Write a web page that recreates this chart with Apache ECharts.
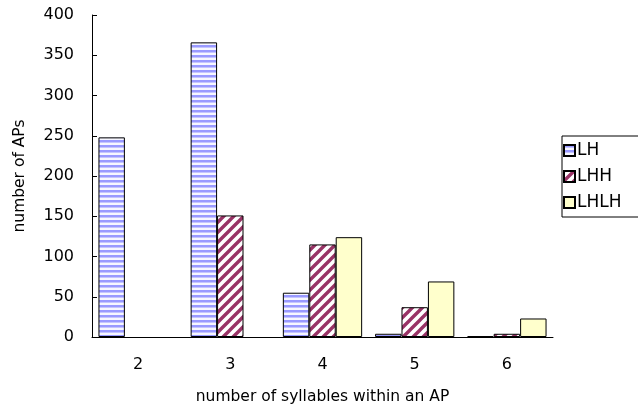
<!DOCTYPE html>
<html><head><meta charset="utf-8">
<script src="https://cdn.jsdelivr.net/npm/echarts@6/dist/echarts.min.js"></script>
<style>html,body{margin:0;padding:0;background:#fff}#c{width:638px;height:412px}</style>
</head><body><div id="c"></div>
<script>
var categories = ['2', '3', '4', '5', '6'];
var seriesNames = ['LH', 'LHH', 'LHLH'];
var lhValues = [248, 366, 55, 4, 1];
var lhhValues = [null, 151, 115, 37, 4];
var lhlhValues = [null, null, 124, 69, 23];
var yTicks = [0, 50, 100, 150, 200, 250, 300, 350, 400];

function stripePattern() {
  var c = document.createElement('canvas');
  c.width = 5; c.height = 5;
  var g = c.getContext('2d');
  g.fillStyle = '#f6f6ff'; g.fillRect(0, 0, 5, 5);
  g.fillStyle = '#9999ff'; g.fillRect(0, 0, 5, 2);
  g.fillStyle = '#c4c4ff'; g.fillRect(0, 2, 5, 1);
  return c;
}
function diagPattern() {
  var s = 10;
  var c = document.createElement('canvas');
  c.width = s; c.height = s;
  var g = c.getContext('2d');
  g.fillStyle = '#ffffff'; g.fillRect(0, 0, s, s);
  g.strokeStyle = '#993366'; g.lineWidth = 3.4;
  g.beginPath();
  g.moveTo(-s, s); g.lineTo(s, -s);
  g.moveTo(0, s * 2); g.lineTo(s * 2, 0);
  g.moveTo(-s, s * 2); g.lineTo(s * 2, -s);
  g.stroke();
  return c;
}
var fills = [
  { image: stripePattern(), repeat: 'repeat' },
  { image: diagPattern(), repeat: 'repeat' },
  '#ffffcc'
];
var values = [lhValues, lhhValues, lhlhValues];
var font = 'DejaVu Sans';
var chart = echarts.init(document.getElementById('c'), null, { renderer: 'canvas' });
chart.setOption({
  animation: false,
  backgroundColor: '#ffffff',
  grid: { left: 92, right: 85, top: 15, bottom: 75, containLabel: false, outerBoundsMode: 'none' },
  legend: {
    orient: 'vertical', left: 562, top: 136,
    data: seriesNames,
    itemWidth: 11, itemHeight: 11, itemGap: 9,
    icon: 'rect',
    borderColor: '#000', borderWidth: 1, padding: [6, 24, 6, 1],
    textStyle: { fontFamily: font, fontSize: 17, color: '#000', padding: [0, 0, 0, -3] }
  },
  xAxis: {
    type: 'category', data: categories,
    name: 'number of syllables within an AP', nameLocation: 'middle', nameGap: 52,
    nameTextStyle: { fontFamily: font, fontSize: 15.5, color: '#000' },
    axisLine: { lineStyle: { color: '#000', width: 1 } },
    axisTick: { inside: true, length: 6, lineStyle: { color: '#000' } },
    axisLabel: { fontFamily: font, fontSize: 16, color: '#000', margin: 20 },
    splitLine: { show: false }
  },
  yAxis: {
    type: 'value', min: yTicks[0], max: yTicks[yTicks.length - 1], interval: yTicks[1] - yTicks[0],
    name: 'number of APs', nameLocation: 'middle', nameGap: 64,
    nameTextStyle: { fontFamily: font, fontSize: 15.5, color: '#000' },
    axisLine: { show: true, lineStyle: { color: '#000', width: 1 } },
    axisTick: { show: true, inside: true, length: 5, lineStyle: { color: '#000' } },
    axisLabel: { fontFamily: font, fontSize: 16, color: '#000', margin: 18 },
    splitLine: { show: false }
  },
  series: seriesNames.map(function (n, i) {
    return {
      name: n, type: 'bar', data: values[i],
      barGap: '0%', barCategoryGap: '14%',
      itemStyle: { color: fills[i], borderColor: '#000', borderWidth: 1 }
    };
  })
});
</script></body></html>
